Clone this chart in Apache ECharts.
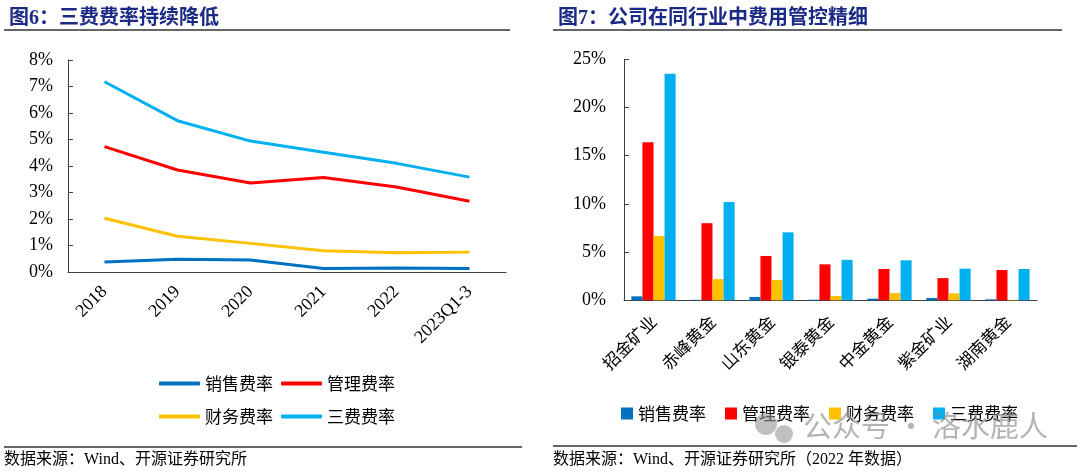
<!DOCTYPE html>
<html>
<head>
<meta charset="utf-8">
<script src="https://cdn.jsdelivr.net/npm/echarts@6/dist/echarts.min.js"></script>
<style>
html,body{margin:0;padding:0;background:#fff;}
#c{width:1080px;height:474px;}
</style>
</head>
<body>
<div id="c"></div>
<script>
// ---- Left chart data (图6) ----
const years = ['2018', '2019', '2020', '2021', '2022', '2023Q1-3'];
const salesRate = [0.38, 0.48, 0.45, 0.13, 0.15, 0.13];
const adminRate = [4.73, 3.85, 3.36, 3.57, 3.21, 2.67];
const finRate = [2.03, 1.35, 1.08, 0.80, 0.73, 0.75];
const totalRate = [7.18, 5.71, 4.94, 4.52, 4.10, 3.58];

// ---- Right chart data (图7, 2022) ----
const companies = ['招金矿业', '赤峰黄金', '山东黄金', '银泰黄金', '中金黄金', '紫金矿业', '湖南黄金'];
const salesRate2 = [0.41, 0.05, 0.35, 0.06, 0.17, 0.24, 0.10];
const adminRate2 = [16.4, 8.0, 4.6, 3.73, 3.25, 2.3, 3.14];
const finRate2 = [6.67, 2.2, 2.1, 0.45, 0.76, 0.72, 0.04];
const totalRate2 = [23.5, 10.2, 7.05, 4.2, 4.15, 3.28, 3.25];

const seriesNames = ['销售费率', '管理费率', '财务费率', '三费费率'];
const colors = ['#0070C0', '#FF0000', '#FFC000', '#00B0F0'];

const SERIF = "'Liberation Serif','Times New Roman','Noto Sans CJK SC',serif";
const CJK = "'Noto Sans CJK SC','Liberation Serif',sans-serif";
const AXIS_COLOR = '#404040';

const chart = echarts.init(document.getElementById('c'), null, {renderer: 'canvas'});

const lineSeries = [salesRate, adminRate, finRate, totalRate].map((d, i) => ({
  name: seriesNames[i],
  type: 'line',
  xAxisIndex: 0, yAxisIndex: 0,
  data: d,
  symbol: 'none',
  smooth: false,
  lineStyle: {width: 3, color: colors[i]},
  itemStyle: {color: colors[i]}
}));

const barSeries = [salesRate2, adminRate2, finRate2, totalRate2].map((d, i) => ({
  name: seriesNames[i] + ' ',
  type: 'bar',
  xAxisIndex: 1, yAxisIndex: 1,
  data: d,
  barGap: '0%',
  barCategoryGap: '25%',
  itemStyle: {color: colors[i]}
}));

const lineLegendCommon = {
  left: 154, icon: 'roundRect', itemWidth: 41, itemHeight: 4, itemGap: 8,
  textStyle: {fontFamily: CJK, fontSize: 17, color: '#000'}
};

const option = {
  backgroundColor: '#fff',
  animation: false,
  color: colors,
  title: [
    {text: '图6：三费费率持续降低', left: 4, top: 4,
     textStyle: {fontFamily: SERIF, fontSize: 20, fontWeight: 'bold', color: '#1B2A84'}},
    {text: '图7：公司在同行业中费用管控精细', left: 553, top: 4,
     textStyle: {fontFamily: SERIF, fontSize: 20, fontWeight: 'bold', color: '#1B2A84'}}
  ],
  grid: [
    {left: 68, right: 574, top: 60, bottom: 202},
    {left: 624, right: 43, top: 59.3, bottom: 173.7}
  ],
  xAxis: [
    {gridIndex: 0, type: 'category', data: years, boundaryGap: true,
     axisLine: {lineStyle: {color: AXIS_COLOR, width: 1}},
     axisTick: {inside: true, length: 5, lineStyle: {color: AXIS_COLOR}},
     axisLabel: {rotate: 45, margin: 17, color: '#000', fontFamily: SERIF, fontSize: 18, interval: 0}},
    {gridIndex: 1, type: 'category', data: companies, boundaryGap: true,
     axisLine: {lineStyle: {color: AXIS_COLOR, width: 1}},
     axisTick: {inside: true, length: 5, lineStyle: {color: AXIS_COLOR}},
     axisLabel: {rotate: 45, margin: 18, color: '#000', fontFamily: CJK, fontSize: 17, interval: 0}}
  ],
  yAxis: [
    {gridIndex: 0, type: 'value', min: 0, max: 8, interval: 1,
     axisLine: {show: true, lineStyle: {color: AXIS_COLOR}},
     axisTick: {show: true, inside: true, length: 5, lineStyle: {color: AXIS_COLOR}},
     splitLine: {show: false},
     axisLabel: {formatter: '{value}%', color: '#000', fontFamily: SERIF, fontSize: 18, margin: 15}},
    {gridIndex: 1, type: 'value', min: 0, max: 25, interval: 5,
     axisLine: {show: true, lineStyle: {color: AXIS_COLOR}},
     axisTick: {show: true, inside: true, length: 5, lineStyle: {color: AXIS_COLOR}},
     splitLine: {show: false},
     axisLabel: {formatter: '{value}%', color: '#000', fontFamily: SERIF, fontSize: 18, margin: 18}}
  ],
  legend: [
    Object.assign({data: ['销售费率', '管理费率'], top: 370}, lineLegendCommon),
    Object.assign({data: ['财务费率', '三费费率'], top: 403}, lineLegendCommon),
    {data: ['销售费率 ', '管理费率 ', '财务费率 ', '三费费率 '], left: 616, top: 400,
     icon: 'rect', itemWidth: 12, itemHeight: 12, itemGap: 19,
     formatter: n => n.trim(),
     textStyle: {fontFamily: CJK, fontSize: 17, color: '#000'}}
  ],
  graphic: [
    {type: 'line', shape: {x1: 4, y1: 30, x2: 510, y2: 30}, style: {stroke: '#333', lineWidth: 1.5}},
    {type: 'line', shape: {x1: 553, y1: 30, x2: 1062, y2: 30}, style: {stroke: '#333', lineWidth: 1.5}},
    {type: 'line', shape: {x1: 4, y1: 447, x2: 522, y2: 447}, style: {stroke: '#333', lineWidth: 1.5}},
    {type: 'line', shape: {x1: 553, y1: 446, x2: 1077, y2: 446}, style: {stroke: '#333', lineWidth: 1.5}},
    {type: 'text', left: 4, top: 452,
     style: {text: '数据来源：Wind、开源证券研究所', font: "16px 'Liberation Serif','Noto Sans CJK SC'", fill: '#000'}},
    {type: 'text', left: 553, top: 452,
     style: {text: '数据来源：Wind、开源证券研究所（2022 年数据）', font: "16px 'Liberation Serif','Noto Sans CJK SC'", fill: '#000'}},
    // watermark
    {type: 'circle', shape: {cx: 766, cy: 424, r: 11}, style: {fill: 'rgba(150,150,150,0.6)'}, z: 100},
    {type: 'circle', shape: {cx: 784, cy: 434, r: 9}, style: {fill: 'rgba(150,150,150,0.6)'}, z: 100},
    {type: 'text', left: 803, top: 411, z: 100,
     style: {text: '公众号 · 洛水鹿人', font: "29px 'Noto Sans CJK SC'", fill: 'rgba(140,140,140,0.65)'}}
  ],
  series: lineSeries.concat(barSeries)
};
chart.setOption(option);
</script>
</body>
</html>
